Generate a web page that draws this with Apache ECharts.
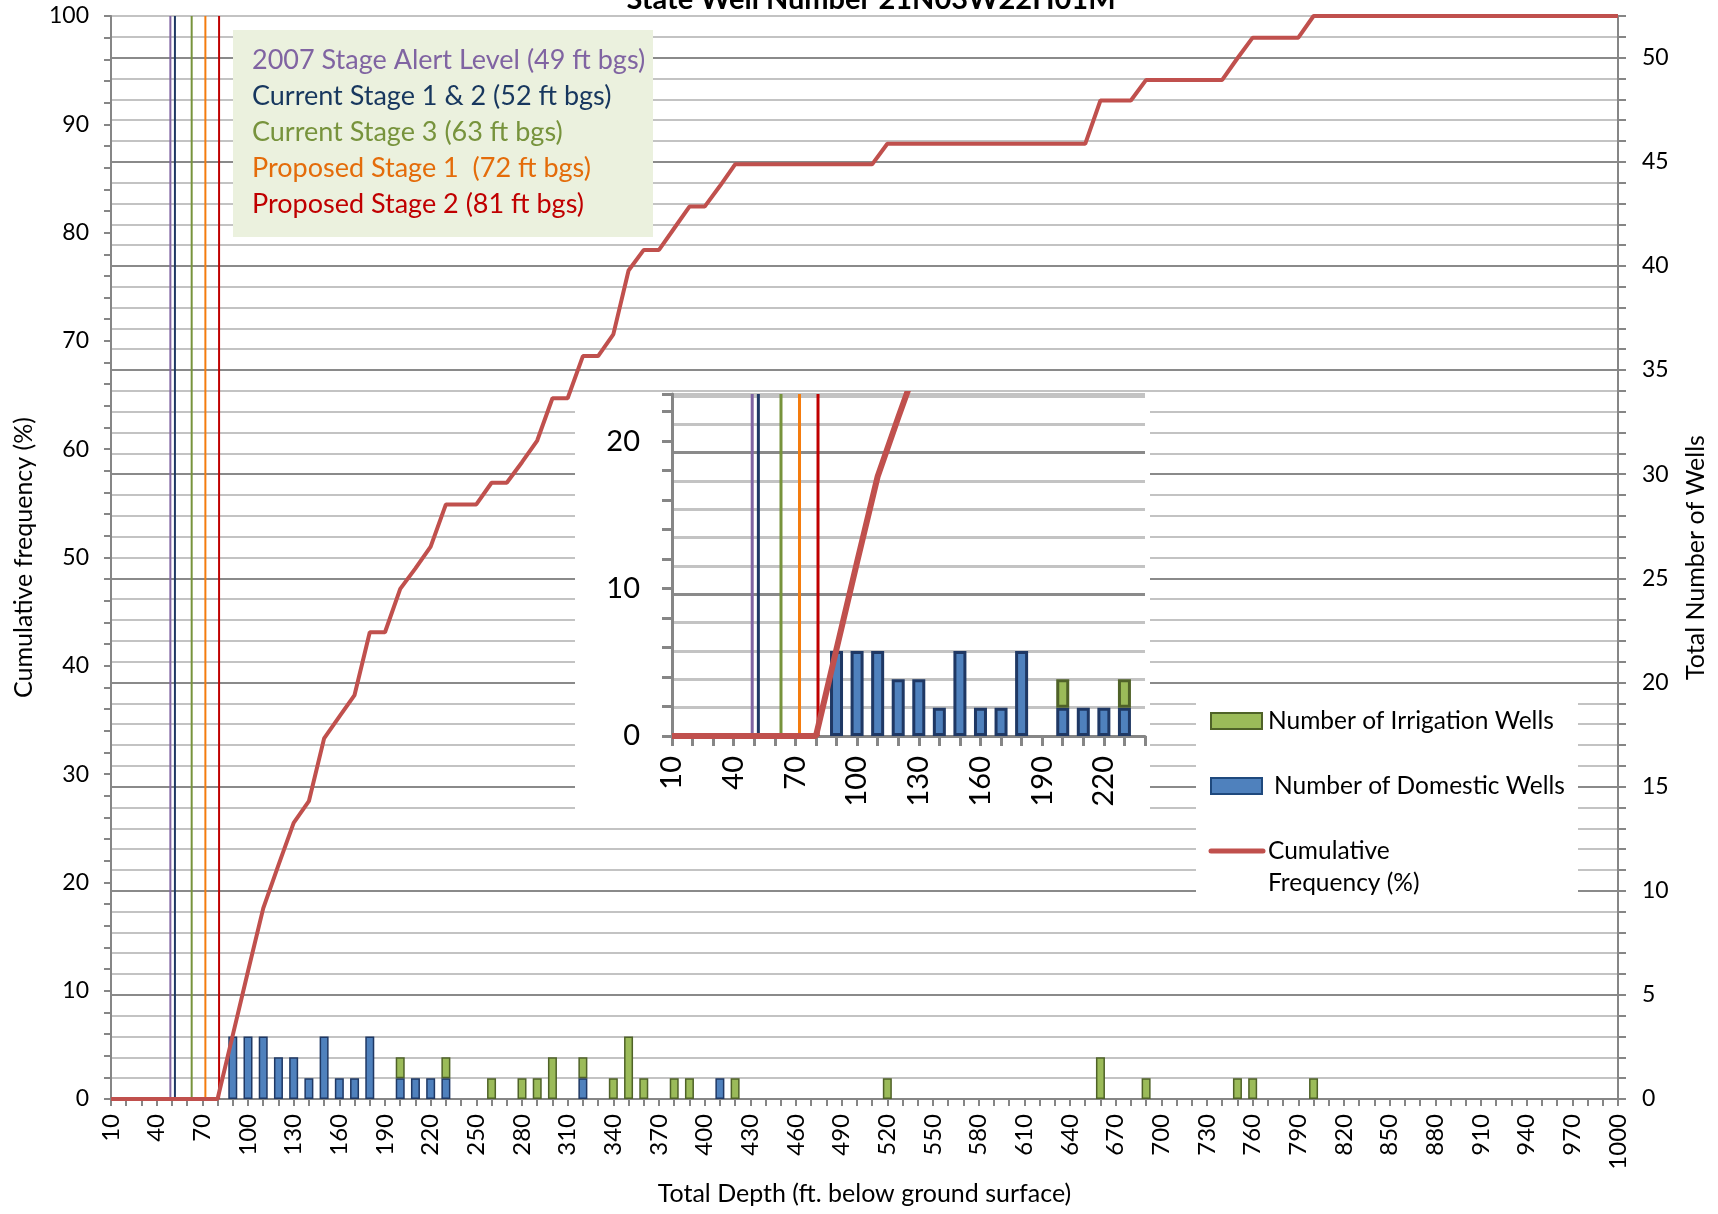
<!DOCTYPE html>
<html><head><meta charset="utf-8">
<script src="https://cdn.jsdelivr.net/npm/echarts@6/dist/echarts.min.js"></script>
<style>html,body{margin:0;padding:0;background:#fff}#chart{width:1718px;height:1214px}</style>
</head><body><div id="chart"></div>
<script>
// ---------- DATA ----------
const depthCategories = [];
for (let d = 10; d <= 1000; d += 10) depthCategories.push(String(d));
const insetCategories = depthCategories.slice(0, 24); // 10 .. 240

const domesticDepths = [90,100,110,120,130,140,150,160,170,180,200,210,220,230,320,410];
const domesticCounts = [3, 3, 3, 2, 2, 1, 3, 1, 1, 3, 1, 1, 1, 1, 1, 1];
const irrigationDepths = [200,230,260,280,290,300,320,340,350,360,380,390,420,520,660,690,750,760,800];
const irrigationCounts = [1, 1, 1, 1, 1, 2, 1, 1, 3, 1, 1, 1, 1, 1, 2, 1, 1, 1, 1];

const cumulativeFreq = [
  0,0,0,0,0,0,0,0,5.9,11.8,
  17.6,21.6,25.5,27.5,33.3,35.3,37.3,43.1,43.1,47.1,
  49.0,51.0,54.9,54.9,54.9,56.9,56.9,58.8,60.8,64.7,
  64.7,68.6,68.6,70.6,76.5,78.4,78.4,80.4,82.4,82.4,
  84.3,86.3,86.3,86.3,86.3,86.3,86.3,86.3,86.3,86.3,
  86.3,88.2,88.2,88.2,88.2,88.2,88.2,88.2,88.2,88.2,
  88.2,88.2,88.2,88.2,88.2,92.2,92.2,92.2,94.1,94.1,
  94.1,94.1,94.1,94.1,96.1,98.0,98.0,98.0,98.0,100,
  100,100,100,100,100,100,100,100,100,100,
  100,100,100,100,100,100,100,100,100,100
];

const thresholdLabels = [
  '2007 Stage Alert Level (49 ft bgs)',
  'Current Stage 1 & 2 (52 ft bgs)',
  'Current Stage 3 (63 ft bgs)',
  'Proposed Stage 1  (72 ft bgs)',
  'Proposed Stage 2 (81 ft bgs)'
];
const thresholdDepths = [49, 52, 63, 72, 81];
const thresholdTextColors = ['#8064A2', '#17375E', '#77933C', '#E46C0A', '#C00000'];
const thresholdLineColors = ['#8064A2', '#1F3864', '#77933C', '#F47C0E', '#C00000'];

const titleText = 'State Well Number 21N03W22H01M';
const xName = 'Total Depth (ft. below ground surface)';
const yLeftName = 'Cumulative frequency (%)';
const yRightName = 'Total Number of Wells';
const legendLabels = ['Number of Irrigation Wells', 'Number of Domestic Wells', 'Cumulative', 'Frequency (%)'];

// ---------- BUILD ----------
function countsFor(cats, depths, counts) {
  return cats.map(c => { const i = depths.indexOf(+c); return i >= 0 ? counts[i] : null; });
}
const domesticMain = countsFor(depthCategories, domesticDepths, domesticCounts);
const irrigationMain = countsFor(depthCategories, irrigationDepths, irrigationCounts);
const domesticInset = countsFor(insetCategories, domesticDepths, domesticCounts);
const irrigationInset = countsFor(insetCategories, irrigationDepths, irrigationCounts);
const cumulativeInset = cumulativeFreq.slice(0, insetCategories.length);

const FONT = 'Lato, "Noto Sans", sans-serif';
const AX = '#868686';
const INSET_TOP = 23.2;              // % shown at the top of the inset
const INSET_WELLS = INSET_TOP * 52 / 100;
const gridColors = ['#8a8a8a', '#c3c3c3', '#c3c3c3', '#c3c3c3', '#c3c3c3'];

const series = [];
series.push({ type: 'bar', xAxisIndex: 0, yAxisIndex: 1, stack: 'main', data: domesticMain, barWidth: 9,
  itemStyle: { color: '#4F81BD', borderColor: '#1F3864', borderWidth: 1.5 }, z: 2 });
series.push({ type: 'bar', xAxisIndex: 0, yAxisIndex: 1, stack: 'main', data: irrigationMain, barWidth: 9,
  itemStyle: { color: '#9BBB59', borderColor: '#4F6228', borderWidth: 1.5 }, z: 2 });
thresholdDepths.forEach((d, i) => series.push({
  type: 'line', xAxisIndex: 1, yAxisIndex: 0, data: [[d, 0], [d, 100]], symbol: 'none', silent: true,
  lineStyle: { color: thresholdLineColors[i], width: 2 }, z: 3 }));
series.push({ type: 'line', xAxisIndex: 0, yAxisIndex: 0, data: cumulativeFreq, symbol: 'none',
  lineStyle: { color: '#C0504D', width: 4 }, z: 4 });
series.push({ type: 'bar', xAxisIndex: 2, yAxisIndex: 3, stack: 'inset', data: domesticInset, barWidth: 13,
  itemStyle: { color: '#4F81BD', borderColor: '#1F3864', borderWidth: 3 }, z: 5 });
series.push({ type: 'bar', xAxisIndex: 2, yAxisIndex: 3, stack: 'inset', data: irrigationInset, barWidth: 13,
  itemStyle: { color: '#9BBB59', borderColor: '#4F6228', borderWidth: 3 }, z: 5 });
thresholdDepths.forEach((d, i) => series.push({
  type: 'line', xAxisIndex: 3, yAxisIndex: 2, data: [[d, 0], [d, INSET_TOP]], symbol: 'none', silent: true,
  lineStyle: { color: thresholdLineColors[i], width: 3 }, z: 6 }));
series.push({ type: 'line', xAxisIndex: 2, yAxisIndex: 2, data: cumulativeInset, symbol: 'none',
  lineStyle: { color: '#C0504D', width: 6 }, z: 7 });

const graphics = [];
graphics.push({ type: 'rect', shape: { x: 575, y: 393, width: 575, height: 433 }, style: { fill: '#fff' }, z: 1 });
graphics.push({ type: 'rect', shape: { x: 1196, y: 703, width: 382, height: 196 }, style: { fill: '#fff' }, z: 1 });
graphics.push({ type: 'rect', shape: { x: 233, y: 30, width: 420, height: 207 }, style: { fill: '#EBF1DE' }, z: 1 });
const annY = [60, 96, 132, 168, 204];
thresholdLabels.forEach((t, i) => graphics.push({ type: 'text', x: 252, y: annY[i], z: 2,
  style: { text: t, fill: thresholdTextColors[i], font: '27px ' + FONT, textVerticalAlign: 'middle', verticalAlign: 'middle' } }));
graphics.push({ type: 'rect', shape: { x: 1211, y: 713, width: 51, height: 16 }, style: { fill: '#9BBB59', stroke: '#4F6228', lineWidth: 2 }, z: 2 });
graphics.push({ type: 'rect', shape: { x: 1211, y: 778, width: 51, height: 16 }, style: { fill: '#4F81BD', stroke: '#1F497D', lineWidth: 2 }, z: 2 });
graphics.push({ type: 'line', shape: { x1: 1211, y1: 851, x2: 1263, y2: 851 }, style: { stroke: '#C0504D', lineWidth: 5, lineCap: 'round' }, z: 2 });
const legX = [1268, 1274, 1268, 1268];
const legY = [721, 786, 851, 883];
legendLabels.forEach((t, i) => graphics.push({ type: 'text', x: legX[i], y: legY[i], z: 2,
  style: { text: t, fill: '#000', font: '24.5px ' + FONT, textVerticalAlign: 'middle', verticalAlign: 'middle' } }));

const option = {
  animation: false,
  backgroundColor: '#fff',
  textStyle: { fontFamily: FONT },
  title: { text: titleText, left: 866, top: -20, textAlign: 'center',
    textStyle: { fontSize: 29, fontWeight: 'bold', color: '#000', fontFamily: FONT } },
  grid: [
    { left: 111, right: 100, top: 16, bottom: 115 },
    { left: 672, top: 394, width: 473, height: 342 }
  ],
  xAxis: [
    { gridIndex: 0, type: 'category', data: depthCategories, boundaryGap: false,
      axisLine: { lineStyle: { color: AX, width: 2 } },
      axisTick: { interval: 0, length: 7, lineStyle: { color: AX, width: 2 } },
      axisLabel: { interval: 2, rotate: 90, fontSize: 24, color: '#000', margin: 15, fontFamily: FONT },
      splitLine: { show: false },
      name: xName, nameLocation: 'middle', nameGap: 82,
      nameTextStyle: { fontSize: 25, color: '#000', fontFamily: FONT } },
    { gridIndex: 0, type: 'value', min: 10, max: 1000, show: false },
    { gridIndex: 1, type: 'category', data: insetCategories, boundaryGap: false, z: 3,
      axisLine: { lineStyle: { color: AX, width: 3 } },
      axisTick: { interval: 0, length: 10, lineStyle: { color: AX, width: 3 } },
      axisLabel: { interval: 2, rotate: 90, fontSize: 29, color: '#000', margin: 20, fontFamily: FONT },
      splitLine: { show: false } },
    { gridIndex: 1, type: 'value', min: 10, max: 240, show: false }
  ],
  yAxis: [
    { gridIndex: 0, type: 'value', position: 'left', min: 0, max: 100, interval: 2,
      axisLine: { show: true, lineStyle: { color: AX, width: 2 } },
      axisTick: { show: true, length: 7, lineStyle: { color: AX, width: 2 } },
      axisLabel: { fontSize: 23, color: '#000', margin: 22, fontFamily: FONT,
        formatter: v => (Math.abs(v % 10) < 1e-9 ? String(v) : '') },
      splitLine: { show: false },
      name: yLeftName, nameLocation: 'middle', nameGap: 75, nameRotate: 90,
      nameTextStyle: { fontSize: 25, color: '#000', fontFamily: FONT } },
    { gridIndex: 0, type: 'value', position: 'right', min: 0, max: 52, interval: 1,
      axisLine: { show: true, lineStyle: { color: AX, width: 2 } },
      axisTick: { show: true, length: 8, lineStyle: { color: AX, width: 2 } },
      axisLabel: { fontSize: 23, color: '#000', margin: 24, fontFamily: FONT,
        formatter: v => (v % 5 === 0 ? String(v) : '') },
      splitLine: { show: true, lineStyle: { color: gridColors, width: 2 } },
      name: yRightName, nameLocation: 'middle', nameGap: 65, nameRotate: 90,
      nameTextStyle: { fontSize: 25, color: '#000', fontFamily: FONT } },
    { gridIndex: 1, type: 'value', position: 'left', min: 0, max: INSET_TOP, interval: 2, z: 3,
      axisLine: { show: true, lineStyle: { color: AX, width: 3 } },
      axisTick: { show: true, length: 10, lineStyle: { color: AX, width: 3 } },
      axisLabel: { fontSize: 29, color: '#000', margin: 32, fontFamily: FONT,
        formatter: v => (Math.abs(v % 10) < 1e-9 ? String(v) : '') },
      splitLine: { show: false } },
    { gridIndex: 1, type: 'value', position: 'right', min: 0, max: INSET_WELLS, interval: 1, z: 3,
      axisLine: { show: false }, axisTick: { show: false }, axisLabel: { show: false },
      splitLine: { show: true, lineStyle: { color: gridColors, width: 3 } } }
  ],
  graphic: { elements: graphics },
  series: series
};
const chart = echarts.init(document.getElementById('chart'), null, { renderer: 'canvas' });
chart.setOption(option);
</script></body></html>
